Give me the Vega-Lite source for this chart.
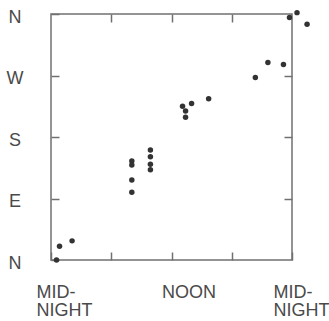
{
  "$schema": "https://vega.github.io/schema/vega-lite/v6.json",
  "width": 241,
  "height": 246,
  "autosize": "none",
  "padding": {"left": 51, "top": 14, "right": 37, "bottom": 61},
  "background": "white",
  "config": {"view": {"stroke": "#707070", "strokeWidth": 1.5}},
  "data": {"values": [
    {"hour": 0.55, "deg": 0},
    {"hour": 0.85, "deg": 20},
    {"hour": 2.1, "deg": 28},
    {"hour": 8.05, "deg": 145},
    {"hour": 8.05, "deg": 139},
    {"hour": 8.05, "deg": 117},
    {"hour": 8.05, "deg": 99},
    {"hour": 9.9, "deg": 161},
    {"hour": 9.9, "deg": 151},
    {"hour": 9.9, "deg": 140},
    {"hour": 9.9, "deg": 132},
    {"hour": 13.1, "deg": 225},
    {"hour": 13.4, "deg": 218},
    {"hour": 13.4, "deg": 209},
    {"hour": 14.0, "deg": 229},
    {"hour": 15.7, "deg": 236},
    {"hour": 20.35, "deg": 267},
    {"hour": 21.6, "deg": 289},
    {"hour": 23.15, "deg": 286},
    {"hour": 23.75, "deg": 355},
    {"hour": 24.5, "deg": 362},
    {"hour": 25.5, "deg": 345}
  ]},
  "layer": [
    {
      "mark": {"type": "point", "filled": true, "size": 30, "color": "#333333", "opacity": 1},
      "encoding": {
        "x": {"field": "hour", "type": "quantitative",
          "scale": {"domain": [0, 24], "nice": false, "zero": false},
          "axis": {"orient": "bottom", "title": null, "values": [0, 6, 12, 18, 24],
            "labelExpr": "datum.value == 0 || datum.value == 24 ? ['MID-', 'NIGHT'] : datum.value == 12 ? 'NOON' : ''",
            "grid": false, "domain": false, "offset": -8, "tickSize": 8, "tickColor": "#707070", "tickWidth": 1.5,
            "labelAlign": "left", "labelBaseline": "top", "labelPadding": 23.5,
            "labelOffset": {"condition": [{"test": "datum.value == 12", "value": -10}, {"test": "datum.value == 24", "value": -19}], "value": -15},
            "labelFont": "Liberation Sans", "labelFontSize": 18, "labelColor": "#4a4a4a",
            "labelLineHeight": 18, "labelOverlap": false, "labelFlush": false, "labelBound": false}},
        "y": {"field": "deg", "type": "quantitative",
          "scale": {"domain": [0, 360], "nice": false, "zero": false},
          "axis": {"orient": "left", "title": null, "values": [0, 90, 180, 270, 360],
            "labelExpr": "datum.value == 90 ? 'E' : datum.value == 180 ? 'S' : datum.value == 270 ? 'W' : 'N'",
            "grid": false, "domain": false, "offset": -8, "tickSize": 8, "tickColor": "#707070", "tickWidth": 1.5,
            "labelAlign": "center", "labelBaseline": "middle", "labelPadding": 36.5, "labelOffset": 3,
            "labelFont": "Liberation Sans", "labelFontSize": 18, "labelColor": "#4a4a4a",
            "labelOverlap": false, "labelFlush": false, "labelBound": false}}
      }
    },
    {
      "mark": {"type": "point", "opacity": 0},
      "encoding": {
        "x": {"field": "hour", "type": "quantitative",
          "axis": {"orient": "top", "title": null, "values": [6, 12, 18], "labels": false,
            "grid": false, "domain": false, "offset": -8, "tickSize": 8, "tickColor": "#707070", "tickWidth": 1.5}},
        "y": {"field": "deg", "type": "quantitative",
          "axis": {"orient": "right", "title": null, "values": [90, 180, 270], "labels": false,
            "grid": false, "domain": false, "offset": -8, "tickSize": 8, "tickColor": "#707070", "tickWidth": 1.5}}
      }
    }
  ],
  "resolve": {"axis": {"x": "independent", "y": "independent"}}
}
